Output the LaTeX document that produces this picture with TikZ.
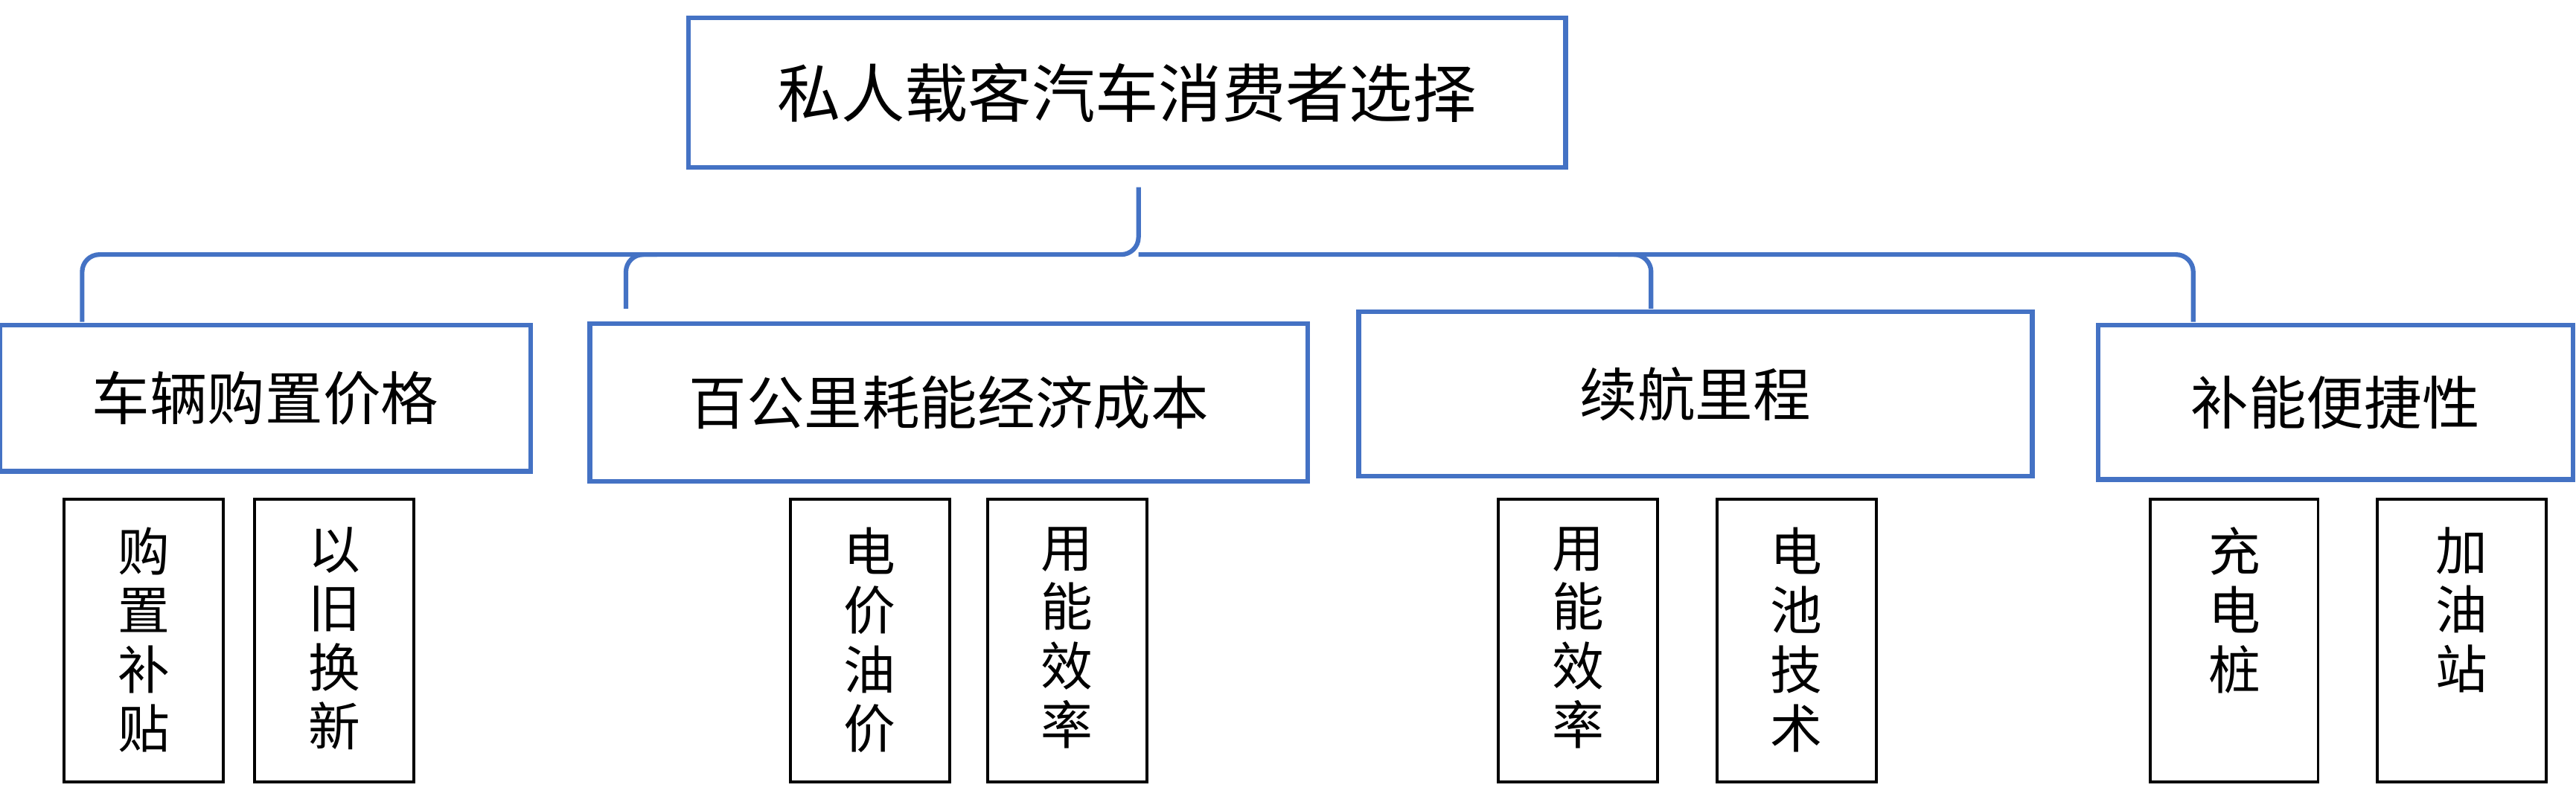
\documentclass[tikz,border=0pt]{standalone}
\usepackage{fontspec}
\newfontfamily\cjk{Noto Sans CJK SC}
\definecolor{bl}{HTML}{4472C4}
\begin{document}
\begin{tikzpicture}[x=0.02cm,y=-0.02cm,
  bbox/.style={draw=bl,line width=1.6pt,inner sep=0,font=\cjk},
  sbox/.style={draw=black,line width=1pt,inner sep=0,font=\cjk\fontsize{18}{20.5}\selectfont,align=center},
  br/.style={draw=bl,line width=1.6pt,rounded corners=6pt}]
\useasboundingbox (0,0) rectangle (1568,490);
\node[bbox,minimum width=534*0.02cm,minimum height=91*0.02cm,font=\cjk\fontsize{22}{26}\selectfont] (top) at (686,56.5) {私人载客汽车消费者选择};
\node[bbox,minimum width=323*0.02cm,minimum height=89*0.02cm,font=\cjk\fontsize{20}{24}\selectfont] (a) at (161.5,242.5) {车辆购置价格};
\node[bbox,minimum width=437*0.02cm,minimum height=96*0.02cm,font=\cjk\fontsize{20}{24}\selectfont] (b) at (577.5,245) {百公里耗能经济成本};
\node[bbox,minimum width=410*0.02cm,minimum height=100*0.02cm,font=\cjk\fontsize{20}{24}\selectfont] (c) at (1032,240) {续航里程};
\node[bbox,minimum width=289*0.02cm,minimum height=94*0.02cm,font=\cjk\fontsize{20}{24}\selectfont] (d) at (1421.5,245) {补能便捷性};
\coordinate (bt) at (693,114);
\coordinate (ja) at (50,196);
\coordinate (jb) at (381,188);
\coordinate (jc) at (1005,188);
\coordinate (jd) at (1335,196);
\draw[br] (ja) -- (50,155) -- (bt |- 0,155) -- (bt);
\draw[br] (jd) -- (1335,155) -- (bt |- 0,155);
\draw[br] (jb) -- (381,155) -- (400,155);
\draw[br] (jc) -- (1005,155) -- (985,155);
\foreach \n/\x/\w in {s1/87.5/97,s2/203.5/97,s3/529.5/97,s4/649.5/97,s5/960.5/97,s6/1093.5/97,s7/1360/102,s8/1498.5/103}
  \node[sbox,minimum width=\w*0.02cm,minimum height=172*0.02cm] (\n) at (\x,390) {};
\foreach \n/\t in {s1/{购\\置\\补\\贴},s2/{以\\旧\\换\\新},s3/{电\\价\\油\\价},s4/{用\\能\\效\\率},s5/{用\\能\\效\\率},s6/{电\\池\\技\\术},s7/{充\\电\\桩},s8/{加\\油\\站}}
  \node[sbox,draw=none,anchor=north] at ([yshift=-0.34cm]\n.north) {\t};
\end{tikzpicture}
\end{document}
